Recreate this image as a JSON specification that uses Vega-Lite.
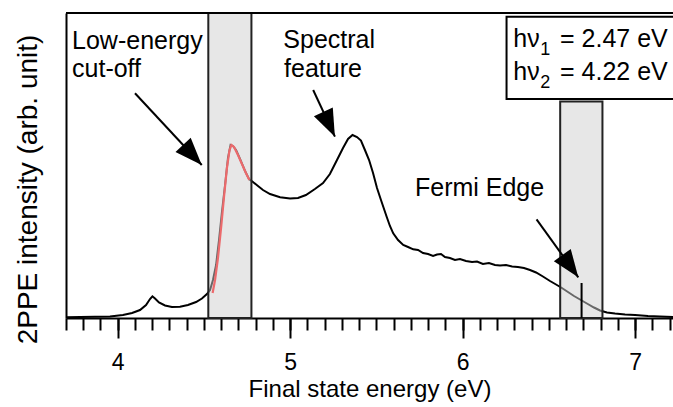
{
  "$schema": "https://vega.github.io/schema/vega-lite/v6.json",
  "width": 607,
  "height": 305,
  "autosize": {"type": "none"},
  "padding": {"left": 66, "top": 13, "right": 0, "bottom": 89},
  "background": "white",
  "config": {
    "view": {"stroke": null},
    "font": "Liberation Sans",
    "text": {"font": "Liberation Sans"}
  },
  "datasets": {
    "spectrum": [
      {"E": 3.700, "I": 0.7}, {"E": 3.781, "I": 1.0}, {"E": 3.868, "I": 1.2}, {"E": 3.955, "I": 1.5},
      {"E": 4.030, "I": 3.0}, {"E": 4.083, "I": 5.0}, {"E": 4.129, "I": 8.0}, {"E": 4.164, "I": 13.0},
      {"E": 4.187, "I": 19.0}, {"E": 4.201, "I": 21.7}, {"E": 4.216, "I": 19.5}, {"E": 4.239, "I": 15.5},
      {"E": 4.274, "I": 12.5}, {"E": 4.314, "I": 11.0}, {"E": 4.361, "I": 11.2}, {"E": 4.407, "I": 13.0},
      {"E": 4.454, "I": 16.0}, {"E": 4.488, "I": 19.5}, {"E": 4.517, "I": 24.0}, {"E": 4.535, "I": 28.0},
      {"E": 4.552, "I": 38.0}, {"E": 4.570, "I": 53.0}, {"E": 4.587, "I": 78.0}, {"E": 4.604, "I": 106.0},
      {"E": 4.622, "I": 133.0}, {"E": 4.639, "I": 160.0}, {"E": 4.654, "I": 173.0}, {"E": 4.668, "I": 172.0},
      {"E": 4.686, "I": 168.0}, {"E": 4.709, "I": 159.0}, {"E": 4.738, "I": 147.0}, {"E": 4.761, "I": 139.0},
      {"E": 4.784, "I": 136.0}, {"E": 4.813, "I": 132.0}, {"E": 4.842, "I": 128.0}, {"E": 4.883, "I": 124.0},
      {"E": 4.941, "I": 120.7}, {"E": 4.999, "I": 119.5}, {"E": 5.045, "I": 120.0}, {"E": 5.091, "I": 123.0},
      {"E": 5.143, "I": 129.0}, {"E": 5.190, "I": 135.0}, {"E": 5.230, "I": 144.0}, {"E": 5.271, "I": 158.0},
      {"E": 5.306, "I": 170.0}, {"E": 5.335, "I": 179.0}, {"E": 5.361, "I": 183.0}, {"E": 5.387, "I": 181.0},
      {"E": 5.410, "I": 177.5}, {"E": 5.433, "I": 168.0}, {"E": 5.457, "I": 158.0}, {"E": 5.480, "I": 145.0},
      {"E": 5.503, "I": 130.0}, {"E": 5.526, "I": 118.0}, {"E": 5.559, "I": 101.3}, {"E": 5.578, "I": 92.0},
      {"E": 5.597, "I": 84.7}, {"E": 5.625, "I": 78.0}, {"E": 5.655, "I": 73.0}, {"E": 5.683, "I": 71.0},
      {"E": 5.713, "I": 68.7}, {"E": 5.741, "I": 68.0}, {"E": 5.770, "I": 65.0}, {"E": 5.799, "I": 64.0},
      {"E": 5.828, "I": 62.0}, {"E": 5.851, "I": 63.5}, {"E": 5.874, "I": 64.0}, {"E": 5.897, "I": 61.0},
      {"E": 5.926, "I": 60.0}, {"E": 5.955, "I": 58.0}, {"E": 5.984, "I": 59.0}, {"E": 6.019, "I": 57.0},
      {"E": 6.054, "I": 56.0}, {"E": 6.083, "I": 56.5}, {"E": 6.117, "I": 54.0}, {"E": 6.152, "I": 55.0},
      {"E": 6.187, "I": 53.0}, {"E": 6.216, "I": 52.5}, {"E": 6.251, "I": 53.0}, {"E": 6.286, "I": 51.5},
      {"E": 6.320, "I": 51.0}, {"E": 6.355, "I": 50.0}, {"E": 6.390, "I": 48.0}, {"E": 6.425, "I": 45.5},
      {"E": 6.465, "I": 41.5}, {"E": 6.506, "I": 37.0}, {"E": 6.541, "I": 33.5}, {"E": 6.575, "I": 30.0},
      {"E": 6.610, "I": 26.0}, {"E": 6.645, "I": 22.0}, {"E": 6.680, "I": 18.5}, {"E": 6.720, "I": 14.5},
      {"E": 6.761, "I": 10.5}, {"E": 6.796, "I": 7.5}, {"E": 6.836, "I": 5.5}, {"E": 6.883, "I": 4.5},
      {"E": 6.941, "I": 3.5}, {"E": 6.999, "I": 3.0}, {"E": 7.074, "I": 2.0}, {"E": 7.143, "I": 1.5},
      {"E": 7.219, "I": 1.0}
    ],
    "fit": [
      {"E": 4.550, "I": 25.0}, {"E": 4.564, "I": 38.0}, {"E": 4.581, "I": 60.0}, {"E": 4.599, "I": 90.0},
      {"E": 4.616, "I": 121.0}, {"E": 4.633, "I": 150.0}, {"E": 4.648, "I": 168.0}, {"E": 4.659, "I": 173.0},
      {"E": 4.674, "I": 171.0}, {"E": 4.697, "I": 163.0}, {"E": 4.720, "I": 154.0}, {"E": 4.743, "I": 145.0},
      {"E": 4.763, "I": 138.0}
    ],
    "bands": [
      {"E1": 4.525, "E2": 4.775, "I1": 0, "I2": 305},
      {"E1": 6.565, "E2": 6.810, "I1": 0, "I2": 216.5}
    ],
    "frame": [{"E1": 3.7, "E2": 7.219, "I": 305}],
    "box": [{"E1": 6.254, "E2": 7.3, "I1": 219, "I2": 301.3}],
    "fermi": [{"E": 6.689, "I1": 0, "I2": 35}],
    "notes": [
      {"E": 3.735, "I": 269, "text": "Low-energy"},
      {"E": 3.735, "I": 241, "text": "cut-off"},
      {"E": 4.960, "I": 270.5, "text": "Spectral"},
      {"E": 4.964, "I": 241, "text": "feature"},
      {"E": 5.723, "I": 122, "text": "Fermi Edge"},
      {"E": 6.293, "I": 271.3, "text": "hν"},
      {"E": 6.564, "I": 271.3, "text": "= 2.47 eV"},
      {"E": 6.293, "I": 238, "text": "hν"},
      {"E": 6.564, "I": 238, "text": "= 4.22 eV"}
    ],
    "subs": [
      {"E": 6.450, "I": 263.5, "text": "1"},
      {"E": 6.450, "I": 230, "text": "2"}
    ],
    "arrows": [
      {"E1": 4.100, "I1": 224.7, "E2": 4.487, "I2": 153.0},
      {"E1": 5.133, "I1": 228.0, "E2": 5.259, "I2": 181.3},
      {"E1": 6.428, "I1": 98.7, "E2": 6.670, "I2": 40.7}
    ]
  },
  "resolve": {"axis": {"x": "independent"}},
  "layer": [
    {
      "data": {"name": "spectrum"},
      "mark": {"type": "line", "color": "black", "strokeWidth": 2},
      "encoding": {
        "x": {
          "field": "E", "type": "quantitative",
          "scale": {"domain": [3.7, 7.219], "nice": false, "zero": false},
          "axis": {
            "orient": "bottom",
            "values": [3.7, 3.8, 3.9, 4.0, 4.1, 4.2, 4.3, 4.4, 4.5, 4.6, 4.7, 4.8, 4.9, 5.0, 5.1, 5.2, 5.3, 5.4, 5.5, 5.6, 5.7, 5.8, 5.9, 6.0, 6.1, 6.2, 6.3, 6.4, 6.5, 6.6, 6.7, 6.8, 6.9, 7.0, 7.1, 7.2],
            "tickSize": 12, "tickWidth": 2, "tickColor": "black",
            "labels": false, "domain": false, "grid": false, "title": null
          }
        },
        "y": {
          "field": "I", "type": "quantitative",
          "scale": {"domain": [0, 305], "nice": false, "zero": false},
          "axis": {
            "orient": "left",
            "domain": true, "domainColor": "black", "domainWidth": 2,
            "ticks": false, "labels": false, "grid": false,
            "title": "2PPE intensity (arb. unit)",
            "titleFont": "Liberation Sans", "titleFontSize": 28, "titleFontWeight": "normal",
            "titleColor": "black", "titlePadding": 24, "titleY": 176
          }
        }
      }
    },
    {
      "data": {"name": "bands"},
      "mark": {"type": "rect", "fill": "#cfcfcf", "fillOpacity": 0.5, "stroke": "#222222", "strokeWidth": 2},
      "encoding": {
        "x": {
          "field": "E1", "type": "quantitative",
          "axis": {
            "orient": "bottom",
            "values": [4, 5, 6, 7],
            "tickSize": 20, "tickWidth": 2, "tickColor": "black",
            "domain": true, "domainColor": "black", "domainWidth": 2, "grid": false,
            "labelFont": "Liberation Sans", "labelFontSize": 23, "labelColor": "black",
            "labelPadding": 31, "labelBaseline": "alphabetic", "labelFlush": false,
            "title": "Final state energy (eV)",
            "titleFont": "Liberation Sans", "titleFontSize": 24, "titleFontWeight": "normal",
            "titleColor": "black", "titleBaseline": "alphabetic", "titleY": 78
          }
        },
        "x2": {"field": "E2"},
        "y": {"field": "I1", "type": "quantitative"},
        "y2": {"field": "I2"}
      }
    },
    {
      "data": {"name": "fit"},
      "mark": {"type": "line", "color": "#ec6a6c", "strokeWidth": 2.2},
      "encoding": {
        "x": {"field": "E", "type": "quantitative", "axis": null},
        "y": {"field": "I", "type": "quantitative"}
      }
    },
    {
      "data": {"name": "fermi"},
      "mark": {"type": "rule", "color": "black", "strokeWidth": 2},
      "encoding": {
        "x": {"field": "E", "type": "quantitative", "axis": null},
        "y": {"field": "I1", "type": "quantitative"},
        "y2": {"field": "I2"}
      }
    },
    {
      "data": {"name": "frame"},
      "mark": {"type": "rule", "color": "black", "strokeWidth": 2},
      "encoding": {
        "x": {"field": "E1", "type": "quantitative", "axis": null},
        "x2": {"field": "E2"},
        "y": {"field": "I", "type": "quantitative"}
      }
    },
    {
      "data": {"name": "box"},
      "mark": {"type": "rect", "fill": "white", "stroke": "black", "strokeWidth": 2, "clip": true},
      "encoding": {
        "x": {"field": "E1", "type": "quantitative", "axis": null},
        "x2": {"field": "E2"},
        "y": {"field": "I1", "type": "quantitative"},
        "y2": {"field": "I2"}
      }
    },
    {
      "data": {"name": "notes"},
      "mark": {"type": "text", "align": "left", "baseline": "alphabetic", "fontSize": 25, "color": "black", "font": "Liberation Sans"},
      "encoding": {
        "x": {"field": "E", "type": "quantitative", "axis": null},
        "y": {"field": "I", "type": "quantitative"},
        "text": {"field": "text"}
      }
    },
    {
      "data": {"name": "subs"},
      "mark": {"type": "text", "align": "left", "baseline": "alphabetic", "fontSize": 18, "color": "black", "font": "Liberation Sans"},
      "encoding": {
        "x": {"field": "E", "type": "quantitative", "axis": null},
        "y": {"field": "I", "type": "quantitative"},
        "text": {"field": "text"}
      }
    },
    {
      "data": {"name": "arrows"},
      "mark": {"type": "rule", "color": "black", "strokeWidth": 2},
      "encoding": {
        "x": {"field": "E1", "type": "quantitative", "axis": null},
        "x2": {"field": "E2"},
        "y": {"field": "I1", "type": "quantitative"},
        "y2": {"field": "I2"}
      }
    },
    {
      "data": {"name": "arrows"},
      "transform": [
        {"calculate": "atan2((datum.E2 - datum.E1) * 172.5, datum.I2 - datum.I1) * 180 / PI", "as": "heading"}
      ],
      "mark": {"type": "point", "shape": "M0,0L-0.38,1L0.38,1Z", "filled": true, "color": "black", "opacity": 1, "size": 3000},
      "encoding": {
        "x": {"field": "E2", "type": "quantitative", "axis": null},
        "y": {"field": "I2", "type": "quantitative"},
        "angle": {"field": "heading", "type": "quantitative", "scale": null}
      }
    }
  ]
}
